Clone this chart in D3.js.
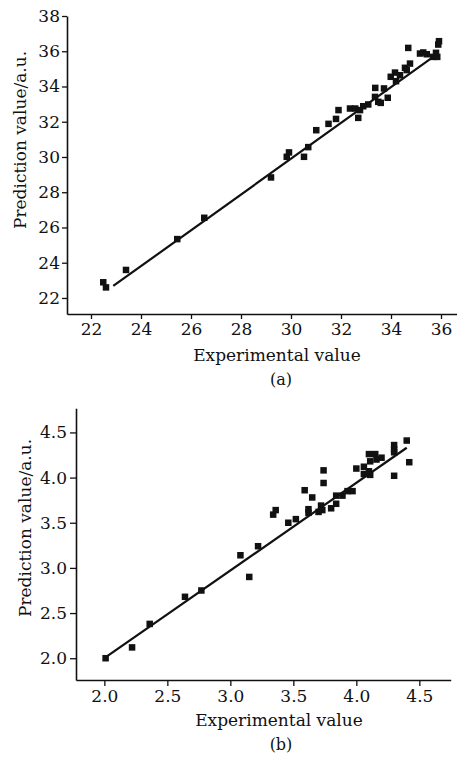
<!DOCTYPE html>
<html>
<head>
<meta charset="utf-8">
<script src="https://cdn.jsdelivr.net/npm/d3@7"></script>
<style>
  html, body { margin: 0; padding: 0; background: #fff; }
  svg text { font-family: "DejaVu Serif", "Liberation Serif", serif; fill: #111; }
</style>
</head>
<body>
<svg id="chart" width="457" height="757"></svg>
<script>
// ---- Panel (a) data ----
const expA = [22.49, 22.60, 23.40, 25.45, 26.53, 29.20, 29.83, 29.92, 30.52, 30.69,
              31.01, 31.50, 31.80, 31.90, 32.36, 32.57, 32.69, 32.76, 32.89, 33.09,
              33.37, 33.36, 33.49, 33.59, 33.72, 33.87, 33.99, 34.16, 34.20, 34.36,
              34.56, 34.69, 34.76, 34.63, 35.16, 35.29, 35.43, 35.69, 35.80, 35.85,
              35.89, 35.92];
const predA = [22.89, 22.60, 23.59, 25.34, 26.55, 28.84, 30.01, 30.26, 30.01, 30.56,
               31.52, 31.88, 32.16, 32.66, 32.75, 32.75, 32.22, 32.66, 32.88, 32.98,
               33.92, 33.41, 33.13, 33.07, 33.89, 33.36, 34.55, 34.79, 34.30, 34.64,
               35.06, 36.19, 35.30, 34.93, 35.87, 35.93, 35.83, 35.68, 35.91, 35.68,
               36.38, 36.57];
const fitA = [[22.89, 22.68], [35.69, 35.68]];
const ticksXA = [22, 24, 26, 28, 30, 32, 34, 36];
const ticksYA = [22, 24, 26, 28, 30, 32, 34, 36, 38];

// ---- Panel (b) data ----
const expB = [2.01, 2.22, 2.36, 2.64, 2.77, 3.08, 3.15, 3.22, 3.34, 3.36,
              3.46, 3.52, 3.59, 3.62, 3.62, 3.65, 3.70, 3.72, 3.73, 3.74,
              3.74, 3.80, 3.84, 3.84, 3.89, 3.93, 3.97, 4.00, 4.06, 4.06,
              4.10, 4.11, 4.10, 4.11, 4.15, 4.16, 4.20, 4.30, 4.30, 4.30,
              4.30, 4.40, 4.42];
const predB = [2.00, 2.12, 2.38, 2.68, 2.75, 3.14, 2.90, 3.24, 3.59, 3.64,
               3.50, 3.54, 3.86, 3.65, 3.61, 3.78, 3.62, 3.69, 3.64, 4.08,
               3.94, 3.66, 3.80, 3.71, 3.80, 3.85, 3.85, 4.10, 4.04, 4.12,
               4.07, 4.03, 4.26, 4.18, 4.26, 4.20, 4.22, 4.36, 4.31, 4.28,
               4.02, 4.41, 4.17];
const fitB = [[2.02, 2.02], [4.40, 4.33]];
const ticksXB = [2.0, 2.5, 3.0, 3.5, 4.0, 4.5];
const ticksYB = [2.0, 2.5, 3.0, 3.5, 4.0, 4.5];

const xTitle = "Experimental value";
const yTitle = "Prediction value/a.u.";

const svg = d3.select("#chart");
const FS = 17;

function panel(cfg) {
  const x = d3.scaleLinear().domain(cfg.xDomain).range(cfg.xRange);
  const y = d3.scaleLinear().domain(cfg.yDomain).range(cfg.yRange);
  const g = svg.append("g");

  const xAxis = g.append("g")
    .attr("transform", `translate(0,${cfg.yRange[0]})`)
    .call(d3.axisBottom(x).tickValues(cfg.ticksX).tickFormat(cfg.fmt)
      .tickSizeInner(cfg.tick).tickSizeOuter(0).tickPadding(4));
  const yAxis = g.append("g")
    .attr("transform", `translate(${cfg.xRange[0]},0)`)
    .call(d3.axisLeft(y).tickValues(cfg.ticksY).tickFormat(cfg.fmt)
      .tickSizeInner(cfg.tick).tickSizeOuter(0).tickPadding(cfg.ypad));
  [xAxis, yAxis].forEach(a => {
    a.select(".domain").attr("stroke", "#111").attr("stroke-width", 1.6);
    a.selectAll(".tick line").attr("stroke", "#111").attr("stroke-width", 1.3);
    a.selectAll(".tick text").attr("font-size", FS)
      .style("font-family", '"DejaVu Serif", serif').attr("fill", "#111");
  });

  // fit line
  g.append("path")
    .datum(cfg.fit)
    .attr("d", d3.line().x(d => x(d[0])).y(d => y(d[1])))
    .attr("stroke", "#111").attr("stroke-width", 2.2).attr("fill", "none");

  // points
  const s = 6.5;
  g.selectAll("rect.pt")
    .data(cfg.ex.map((v, i) => [v, cfg.pr[i]]))
    .join("rect")
    .attr("class", "pt")
    .attr("x", d => x(d[0]) - s / 2)
    .attr("y", d => y(d[1]) - s / 2)
    .attr("width", s).attr("height", s)
    .attr("fill", "#111");

  // titles
  g.append("text")
    .attr("x", cfg.xTitlePos[0]).attr("y", cfg.xTitlePos[1])
    .attr("text-anchor", "middle").attr("font-size", FS)
    .text(xTitle);
  g.append("text")
    .attr("transform", `translate(${cfg.yTitlePos[0]},${cfg.yTitlePos[1]}) rotate(-90)`)
    .attr("text-anchor", "middle").attr("font-size", FS)
    .text(yTitle);
  g.append("text")
    .attr("x", cfg.capPos[0]).attr("y", cfg.capPos[1])
    .attr("text-anchor", "middle").attr("font-size", 16)
    .text(cfg.caption);
}

panel({
  xDomain: [21.04, 36.64], xRange: [67, 457],
  yDomain: [21.09, 38], yRange: [314, 16],
  ticksX: ticksXA, ticksY: ticksYA, fmt: d3.format("d"), tick: 5, ypad: 2,
  ex: expA, pr: predA, fit: fitA,
  xTitlePos: [277, 361], yTitlePos: [26, 140], capPos: [281, 385], caption: "(a)"
});

panel({
  xDomain: [1.775, 4.749], xRange: [76, 450.7],
  yDomain: [1.759, 4.767], yRange: [680, 408.3],
  ticksX: ticksXB, ticksY: ticksYB, fmt: d3.format(".1f"), tick: 6, ypad: 3,
  ex: expB, pr: predB, fit: fitB,
  xTitlePos: [279, 726], yTitlePos: [31, 528], capPos: [281, 750], caption: "(b)"
});
</script>
</body>
</html>
